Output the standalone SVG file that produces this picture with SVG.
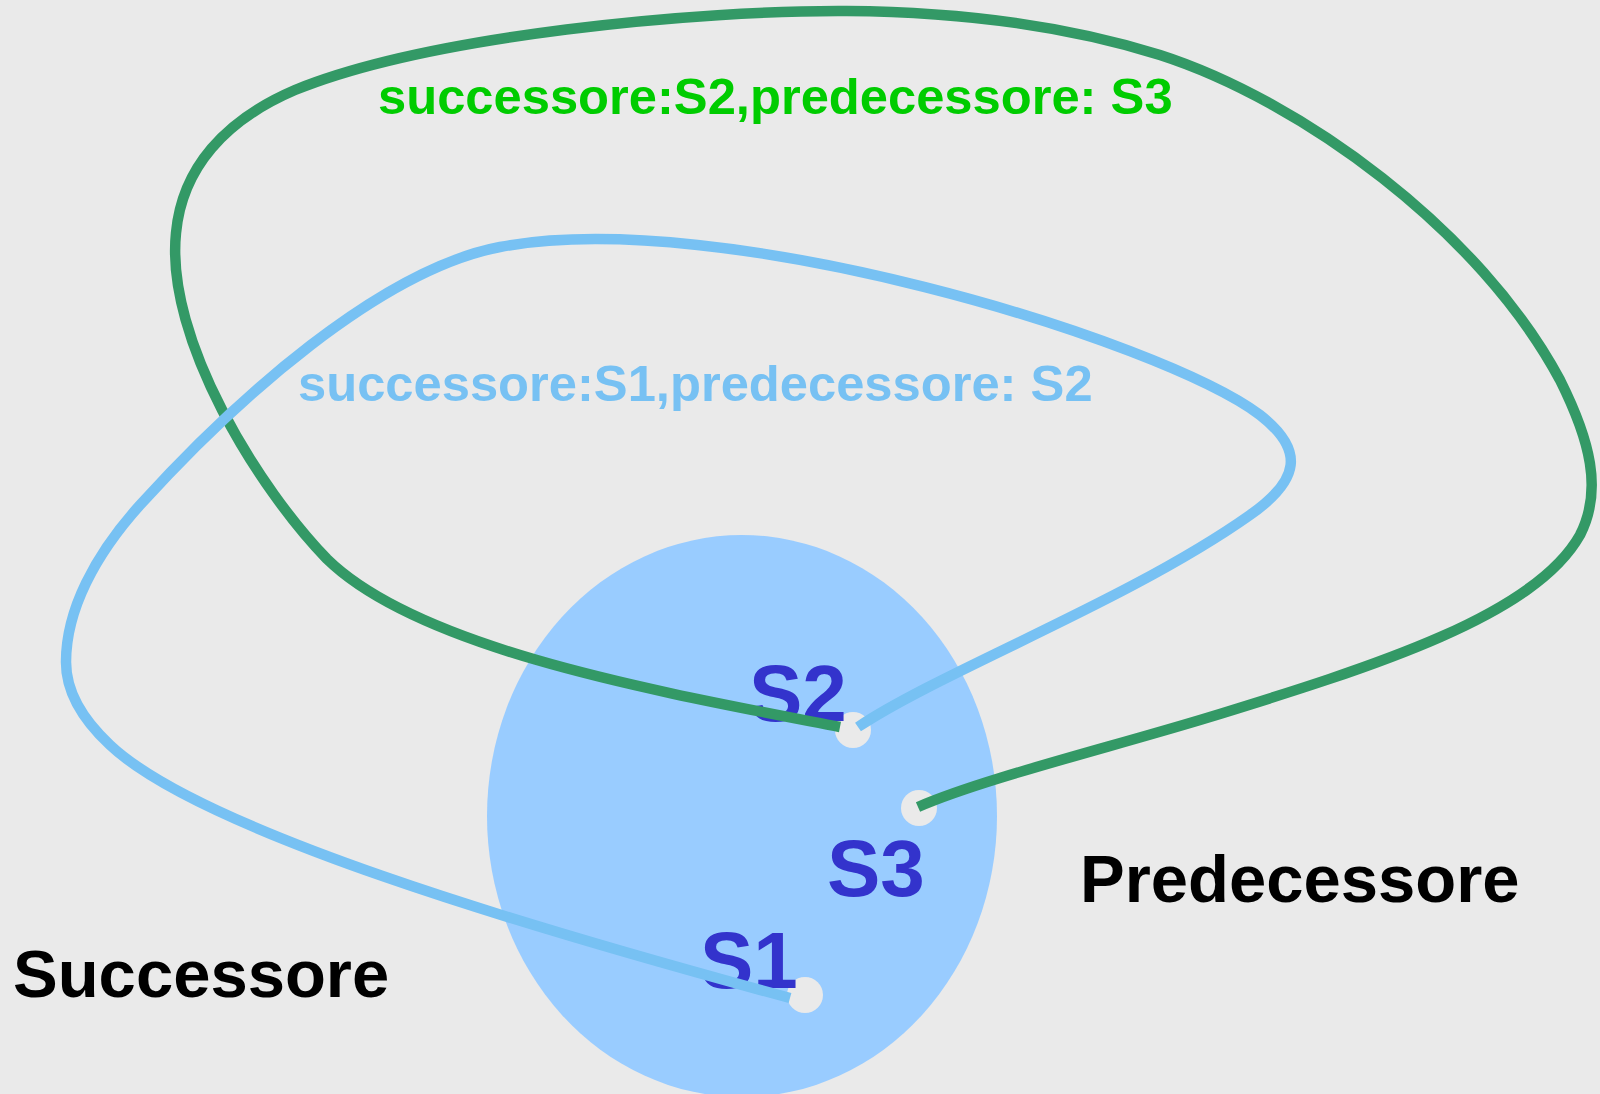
<svg xmlns="http://www.w3.org/2000/svg" width="1600" height="1094" viewBox="0 0 1600 1094">
<style>
.lbl{font-family:"Liberation Sans",Arial,sans-serif;font-weight:bold}
.node{font-size:80px;fill:#3333cc}
.dot{fill:#eaeaea}
.edge{fill:none;stroke-width:10.5;stroke-linecap:butt;stroke-linejoin:round}
.green{stroke:#339966}
.blue{stroke:#77c1f3}
</style>
<rect width="1600" height="1094" fill="#eaeaea"/>
<ellipse id="ring" cx="742" cy="816" rx="255" ry="281" fill="#99ccff"/>
<g id="S2"><circle class="dot" cx="853" cy="730" r="18"/><text class="lbl node" x="749" y="721">S2</text></g>
<g id="S3"><circle class="dot" cx="919" cy="808" r="18"/><text class="lbl node" x="827" y="896">S3</text></g>
<g id="S1"><circle class="dot" cx="805" cy="995" r="18"/><text class="lbl node" x="700" y="988">S1</text></g>
<g id="connectors">
<path class="edge green" d="M 840 727 C 660 692, 420 650, 327 559 C 260 490, 165 340, 176 233 C 182 168, 225 120, 295 90 C 430 35, 700 10, 847 11 C 980 12, 1080 30, 1160 55 C 1300 100, 1480 230, 1560 380 C 1590 440, 1603 490, 1580 535 C 1535 615, 1380 665, 1200 720 C 1100 750, 980 780, 918 807"/>
<path class="edge blue" d="M 790 998 C 520 925, 200 830, 110 745 C 80 717, 66 690, 66 662 C 66 610, 95 555, 140 505 C 235 400, 380 270, 500 247 C 720 205, 1160 340, 1260 415 C 1305 450, 1300 480, 1250 515 C 1130 600, 940 672, 858 727"/>
</g>
<g id="labels">
<text class="lbl" x="378" y="114" font-size="50.7" fill="#00cc00">successore:S2,predecessore: S3</text>
<text class="lbl" x="298" y="401" font-size="50.7" fill="#77c1f3">successore:S1,predecessore: S2</text>
<text class="lbl" x="13" y="997" font-size="67" fill="#000">Successore</text>
<text class="lbl" x="1080" y="902" font-size="67" fill="#000">Predecessore</text>
</g>
</svg>
